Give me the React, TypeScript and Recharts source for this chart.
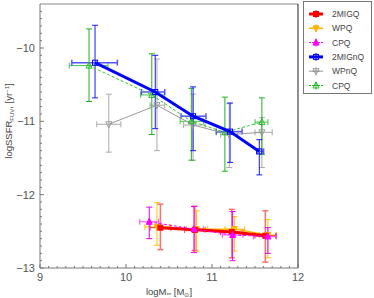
import React from 'react';
import { ComposedChart, Scatter, XAxis, YAxis, ErrorBar, ReferenceLine } from 'recharts';

// ---------- tick labels ----------
const xMajorTicks = [9, 10, 11, 12];
const xTickLabels = ['9', '10', '11', '12'];
const yMajorTicks = [-13, -12, -11, -10];
const yTickLabels = ['\u221213', '\u221212', '\u221211', '\u221210'];
const xMinorTicks = Array.from({ length: 31 }, (_, i) => +(9 + i * 0.1).toFixed(1));
const yMinorTicks = Array.from({ length: 36 }, (_, i) => +(-13 + i * 0.1).toFixed(1));

// ---------- series: 2MIGQ (red) ----------
const migqX = [10.4, 10.8, 11.23, 11.62];
const migqY = [-12.45, -12.48, -12.51, -12.56];
const migqYLo = [-12.75, -12.76, -12.86, -12.92];
const migqYHi = [-12.13, -12.16, -12.2, -12.22];
const migqXLo = [10.28, 10.68, 11.1, 11.5];
const migqXHi = [10.52, 10.92, 11.36, 11.74];

// ---------- series: WPQ (orange) ----------
const wpqX = [10.36, 10.82, 11.26, 11.65];
const wpqY = [-12.44, -12.47, -12.47, -12.55];
const wpqYLo = [-12.69, -12.77, -12.77, -12.86];
const wpqYHi = [-12.11, -12.22, -12.3, -12.34];
const wpqXLo = [10.22, 10.7, 11.15, 11.55];
const wpqXHi = [10.5, 10.95, 11.38, 11.75];

// ---------- series: CPQ (magenta) ----------
const cpqX = [10.27, 10.79, 11.24, 11.65];
const cpqY = [-12.37, -12.47, -12.55, -12.57];
const cpqYLo = [-12.6, -12.79, -12.9, -12.8];
const cpqYHi = [-12.17, -12.16, -12.23, -12.45];
const cpqXLo = [10.16, 10.68, 11.12, 11.48];
const cpqXHi = [10.38, 10.9, 11.36, 11.75];

// ---------- series: 2MIGnQ (blue) ----------
const mignqX = [9.64, 10.34, 10.78, 11.21, 11.55];
const mignqY = [-10.2, -10.6, -10.93, -11.14, -11.41];
const mignqYLo = [-10.68, -11.1, -11.4, -11.56, -11.73];
const mignqYHi = [-9.69, -10.1, -10.53, -10.75, -11.25];
const mignqXLo = [9.37, 10.18, 10.64, 11.05, 11.52];
const mignqXHi = [9.9, 10.45, 10.93, 11.35, 11.6];

// ---------- series: WPnQ (gray) ----------
const wpnqX = [9.8, 10.36, 10.78, 11.2, 11.58];
const wpnqY = [-11.04, -10.78, -11.05, -11.18, -11.15];
const wpnqYLo = [-11.42, -11.4, -11.53, -11.63, -11.63];
const wpnqYHi = [-10.63, -10.15, -10.63, -10.76, -10.95];
const wpnqXLo = [9.66, 10.28, 10.67, 11.1, 11.5];
const wpnqXHi = [9.94, 10.45, 10.92, 11.3, 11.7];

// ---------- series: CPQ (green, non-quenched) ----------
const cpnqX = [9.57, 10.3, 10.76, 11.15, 11.58];
const cpnqY = [-10.24, -10.64, -11.0, -11.15, -11.01];
const cpnqYLo = [-10.73, -11.18, -11.53, -11.68, -11.45];
const cpnqYHi = [-9.74, -10.08, -10.55, -10.67, -10.68];
const cpnqXLo = [9.34, 10.17, 10.63, 11.05, 11.5];
const cpnqXHi = [9.79, 10.45, 10.9, 11.24, 11.65];

const seriesNames = ['2MIGQ', 'WPQ', 'CPQ', '2MIGnQ', 'WPnQ', 'CPQ'];

function build(x: number[], y: number[], yLo: number[], yHi: number[], xLo: number[], xHi: number[]) {
  return x.map((xv, i) => ({
    x: xv,
    y: y[i],
    ey: [y[i] - yLo[i], yHi[i] - y[i]],
    ex: [xv - xLo[i], xHi[i] - xv],
  }));
}

const migqData = build(migqX, migqY, migqYLo, migqYHi, migqXLo, migqXHi);
const wpqData = build(wpqX, wpqY, wpqYLo, wpqYHi, wpqXLo, wpqXHi);
const cpqData = build(cpqX, cpqY, cpqYLo, cpqYHi, cpqXLo, cpqXHi);
const mignqData = build(mignqX, mignqY, mignqYLo, mignqYHi, mignqXLo, mignqXHi);
const wpnqData = build(wpnqX, wpnqY, wpnqYLo, wpnqYHi, wpnqXLo, wpnqXHi);
const cpnqData = build(cpnqX, cpnqY, cpnqYLo, cpnqYHi, cpnqXLo, cpnqXHi);

const FONT = "'Liberation Sans', Arial, sans-serif";

// ---------- marker shapes ----------
type Kind = 'square' | 'tri' | 'itri';
function marker(kind: Kind, color: string, filled: boolean, s = 2.5) {
  return (props: any) => {
    const { cx, cy } = props;
    if (cx == null || cy == null) return <g />;
    const fill = filled ? color : 'none';
    if (kind === 'square')
      return <rect x={cx - s} y={cy - s} width={2 * s} height={2 * s} fill={fill} stroke={color} strokeWidth={1} />;
    if (kind === 'tri')
      return <polygon points={`${cx},${cy - s - 1} ${cx - s - 0.5},${cy + s} ${cx + s + 0.5},${cy + s}`} fill={fill} stroke={color} strokeWidth={1} />;
    return <polygon points={`${cx},${cy + s + 1} ${cx - s - 0.5},${cy - s} ${cx + s + 0.5},${cy - s}`} fill={fill} stroke={color} strokeWidth={1} />;
  };
}

function XTick(props: any) {
  const { x, y, payload } = props;
  const v = payload.value;
  const idx = xMajorTicks.findIndex((t) => Math.abs(t - v) < 1e-6);
  const major = idx >= 0;
  return (
    <g>
      <line x1={x} x2={x} y1={y} y2={y - (major ? 4 : 2)} stroke="#777" strokeWidth={1} />
      {major && (
        <text x={x} y={y + 13} textAnchor="middle" fontSize={11} fontFamily={FONT} fill="#555">
          {xTickLabels[idx]}
        </text>
      )}
    </g>
  );
}

function YTick(props: any) {
  const { x, y, payload } = props;
  const v = payload.value;
  const idx = yMajorTicks.findIndex((t) => Math.abs(t - v) < 1e-6);
  const major = idx >= 0;
  return (
    <g>
      <line x1={x} x2={x + (major ? 4 : 2)} y1={y} y2={y} stroke="#777" strokeWidth={1} />
      {major && (
        <text x={x - 5} y={y + 4} textAnchor="end" fontSize={11} fontFamily={FONT} fill="#555">
          {yTickLabels[idx]}
        </text>
      )}
    </g>
  );
}

function XLabel(props: any) {
  const vb = props.viewBox || { x: 40, y: 268, width: 258, height: 30 };
  const cx = vb.x + vb.width / 2;
  return (
    <text x={cx} y={295} textAnchor="middle" fontSize={9.5} fontFamily={FONT} fill="#444">
      logM
      <tspan fontSize={6} dy={2}>**</tspan>
      <tspan dy={-2}> [M</tspan>
      <tspan fontSize={6} dy={2}>{'\u2299'}</tspan>
      <tspan dy={-2}>]</tspan>
    </text>
  );
}

function YLabel() {
  return (
    <text transform="translate(12,121) rotate(-90)" x={0} y={0} textAnchor="middle" fontSize={9.5} fontFamily={FONT} fill="#444">
      logSSFR
      <tspan fontSize={6} dy={2}>FUV</tspan>
      <tspan dy={-2}>, [yr</tspan>
      <tspan fontSize={6} dy={-3}>{'\u22121'}</tspan>
      <tspan dy={3}>]</tspan>
    </text>
  );
}

const legendItems = [
  { color: '#ff0000', kind: 'square' as Kind, filled: true, dash: '', w: 3 },
  { color: '#ffb400', kind: 'itri' as Kind, filled: true, dash: '', w: 1.5 },
  { color: '#ff00ff', kind: 'tri' as Kind, filled: true, dash: '2 2', w: 1 },
  { color: '#0000ff', kind: 'square' as Kind, filled: false, dash: '', w: 3 },
  { color: '#999999', kind: 'itri' as Kind, filled: false, dash: '', w: 1 },
  { color: '#22bb22', kind: 'tri' as Kind, filled: false, dash: '2 2', w: 1 },
];

function LegendBox() {
  return (
    <div
      style={{
        position: 'absolute',
        left: 303,
        top: 1,
        width: 69,
        height: 93,
        border: '1px solid #777',
        background: '#fff',
        boxSizing: 'border-box',
      }}
    >
      <svg width={69} height={93} style={{ position: 'absolute', left: -1, top: -1 }}>
        {legendItems.map((it, i) => {
          const cy = 13 + i * 14.3;
          const Shape = marker(it.kind, it.color, it.filled, 2.5);
          return (
            <g key={i}>
              <line x1={6} x2={20} y1={cy} y2={cy} stroke={it.color} strokeWidth={it.w} strokeDasharray={it.dash} />
              <line x1={9} x2={17} y1={cy} y2={cy} stroke={it.color} strokeWidth={1} />
              <line x1={13} x2={13} y1={cy - 4} y2={cy + 4} stroke={it.color} strokeWidth={1} />
              <Shape cx={13} cy={cy} />
              <text x={29} y={cy + 3} fontSize={8.5} fontFamily={FONT} fill="#444">
                {seriesNames[i]}
              </text>
            </g>
          );
        })}
      </svg>
    </div>
  );
}

export default function App() {
  return (
    <div style={{ position: 'absolute', left: 0, top: 0, width: 374, height: 298, background: '#fff' }}>
      <ComposedChart width={374} height={298} margin={{ top: 4, right: 76, bottom: 0, left: 0 }}>
        <XAxis
          type="number"
          dataKey="x"
          domain={[9, 12]}
          allowDataOverflow
          ticks={xMinorTicks}
          interval={0}
          tick={<XTick />}
          tickLine={false}
          tickSize={0}
          tickMargin={0}
          height={30}
          axisLine={{ stroke: '#777' }}
          label={<XLabel />}
        />
        <YAxis
          type="number"
          dataKey="y"
          domain={[-13, -9.4]}
          allowDataOverflow
          ticks={yMinorTicks}
          interval={0}
          tick={<YTick />}
          tickLine={false}
          tickSize={0}
          tickMargin={0}
          width={40}
          axisLine={{ stroke: '#777' }}
          label={<YLabel />}
        />
        <ReferenceLine y={-9.4} stroke="#888" strokeWidth={1} />
        <ReferenceLine x={12} stroke="#222" strokeWidth={1} />

        {/* non-quenched */}
        <Scatter
          name="WPnQ"
          data={wpnqData}
          fill="#999999"
          isAnimationActive={false}
          line={{ stroke: '#999999', strokeWidth: 1 }}
          lineType="joint"
          shape={marker('itri', '#999999', false)}
        >
          <ErrorBar dataKey="ey" direction="y" width={3} stroke="#aaaaaa" strokeWidth={1} />
          <ErrorBar dataKey="ex" direction="x" width={3} stroke="#aaaaaa" strokeWidth={1} />
        </Scatter>
        <Scatter
          name="CPQ"
          data={cpnqData}
          fill="#22bb22"
          isAnimationActive={false}
          line={{ stroke: '#33cc33', strokeWidth: 1, strokeDasharray: '3 2' }}
          lineType="joint"
          shape={marker('tri', '#22bb22', false)}
        >
          <ErrorBar dataKey="ey" direction="y" width={3} stroke="#22b022" strokeWidth={1} />
          <ErrorBar dataKey="ex" direction="x" width={3} stroke="#44c444" strokeWidth={1} />
        </Scatter>
        <Scatter
          name="2MIGnQ"
          data={mignqData}
          fill="#0000ff"
          isAnimationActive={false}
          line={{ stroke: '#0000ff', strokeWidth: 3 }}
          lineType="joint"
          shape={marker('square', '#0000ff', false)}
        >
          <ErrorBar dataKey="ey" direction="y" width={3} stroke="#1a1aff" strokeWidth={1} />
          <ErrorBar dataKey="ex" direction="x" width={3} stroke="#5555ff" strokeWidth={1.5} />
        </Scatter>

        {/* quenched */}
        <Scatter
          name="WPQ"
          data={wpqData}
          fill="#ffb400"
          isAnimationActive={false}
          line={{ stroke: '#ffb400', strokeWidth: 1.5 }}
          lineType="joint"
          shape={marker('itri', '#ffb400', true)}
        >
          <ErrorBar dataKey="ey" direction="y" width={3} stroke="#ffc400" strokeWidth={1} />
          <ErrorBar dataKey="ex" direction="x" width={3} stroke="#ffc400" strokeWidth={1} />
        </Scatter>
        <Scatter
          name="2MIGQ"
          data={migqData}
          fill="#ff0000"
          isAnimationActive={false}
          line={{ stroke: '#ff0000', strokeWidth: 3 }}
          lineType="joint"
          shape={marker('square', '#ff0000', true)}
        >
          <ErrorBar dataKey="ey" direction="y" width={3} stroke="#ff7070" strokeWidth={1.5} />
          <ErrorBar dataKey="ex" direction="x" width={3} stroke="#ff3030" strokeWidth={1} />
        </Scatter>
        <Scatter
          name="CPQ"
          data={cpqData}
          fill="#ff00ff"
          isAnimationActive={false}
          line={{ stroke: '#ff00ff', strokeWidth: 1, strokeDasharray: '3 2' }}
          lineType="joint"
          shape={marker('tri', '#ff00ff', true)}
        >
          <ErrorBar dataKey="ey" direction="y" width={3} stroke="#ee00ee" strokeWidth={1} />
          <ErrorBar dataKey="ex" direction="x" width={3} stroke="#ff44ff" strokeWidth={1} />
        </Scatter>
      </ComposedChart>
      <LegendBox />
    </div>
  );
}
